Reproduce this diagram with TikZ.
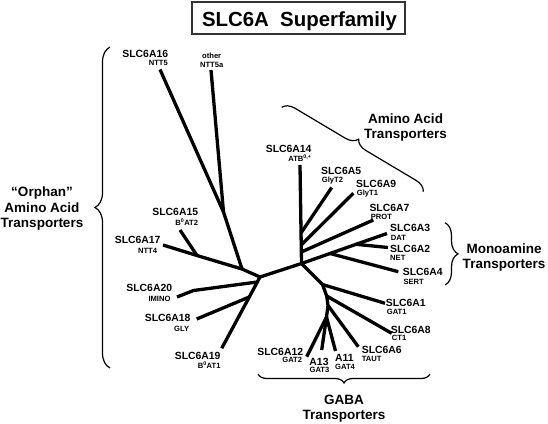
\documentclass[tikz,border=0pt]{standalone}
\usepackage{fontspec}
\setmainfont{Liberation Sans}
\usetikzlibrary{decorations.pathreplacing}
\begin{document}
\begin{tikzpicture}[x=1pt,y=-1pt,
  br/.style={line width=3.3pt, line join=round},
  mainlab/.style={font=\fontsize{10.4}{12}\selectfont\bfseries, inner sep=0pt},
  sublab/.style={font=\fontsize{7.6}{9}\selectfont\bfseries, inner sep=0pt},
  grouplab/.style={font=\fontsize{13.5}{16}\selectfont\bfseries, inner sep=0pt, anchor=base},
  curly/.style={decorate, decoration={brace, amplitude=#1}, line width=1.2pt},
]
\useasboundingbox[fill=white] (0,0) rectangle (548,423);

% title
\node[draw=black!80, line width=1.3pt, minimum width=213pt, minimum height=32pt, inner sep=0pt] (titlebox) at (298.5,18) {};
\node[font=\fontsize{20.4}{24}\selectfont\bfseries, anchor=base, inner sep=0pt] (titletext) at (299.5,26.7) {SLC6A\hspace{0.556em}Superfamily};

% tree coordinates
\coordinate (L) at (260,277);
\coordinate (R) at (301.5,263.5);
\coordinate (J1) at (242,269);
\coordinate (J15) at (197,255.5);
\coordinate (e17) at (163,245);
\coordinate (e15) at (180,230);
\coordinate (J2) at (223.5,212);
\coordinate (e16) at (160,69.5);
\coordinate (e5a) at (211,70);
\coordinate (J20) at (257.3,282);
\coordinate (k20) at (193.5,290.5);
\coordinate (e20) at (177,297);
\coordinate (J18) at (249.3,297);
\coordinate (e18) at (196.7,319);
\coordinate (e19) at (221.7,348.3);

\coordinate (e14) at (300,165);
\coordinate (J5) at (301,233);
\coordinate (J9) at (301.2,245);
\coordinate (J7) at (301.3,252);
\coordinate (e5) at (331.7,187.5);
\coordinate (e9) at (353.3,193.3);
\coordinate (e7) at (373.3,220);
\coordinate (J4) at (330,253.5);
\coordinate (J2b) at (356,244.3);
\coordinate (e3) at (387,233.5);
\coordinate (e2) at (388,247.5);
\coordinate (e4) at (398.3,271.7);
\coordinate (G1) at (322.5,284.5);
\coordinate (G2) at (326.7,296);
\coordinate (G3) at (328,305.5);
\coordinate (G4) at (326.5,317);
\coordinate (e1) at (385,303.3);
\coordinate (e8) at (391.7,333.3);
\coordinate (e6) at (358.3,346.7);
\coordinate (e12) at (306.7,356.7);
\coordinate (e13) at (321.7,350);
\coordinate (e11) at (335.5,351);

% tree branches
\draw[br] (R) -- (L) -- (J1) -- (J15) -- (e17);
\draw[br] (J15) -- (e15);
\draw[br] (J1) -- (J2) -- (e16);
\draw[br] (J2) -- (e5a);
\draw[br] (L) -- (J20) -- (J18) -- (e19);
\draw[br] (J20) -- (k20) -- (e20);
\draw[br] (J18) -- (e18);

\draw[br] (R) -- (e14);
\draw[br] (J5) -- (e5);
\draw[br] (J9) -- (e9);
\draw[br] (J7) -- (e7);
\draw[br] (R) -- (J4) -- (J2b) -- (e3);
\draw[br] (J4) -- (e4);
\draw[br] (J2b) -- (e2);
\draw[br] (R) -- (G1) -- (G2) -- (G3) -- (G4) -- (e12);
\draw[br] (G1) -- (e1);
\draw[br] (G2) -- (e8);
\draw[br] (G3) -- (e6);
\draw[br] (G4) -- (e13);
\draw[br] (G4) -- (e11);

% leaf labels (left side, right aligned)
\node[mainlab, anchor=base east] (l16) at (168.3,57.3) {SLC6A16};
\node[sublab, anchor=base east] (s16) at (168,65) {NTT5};
\node[sublab, anchor=base] (loth) at (211.7,58.3) {other};
\node[sublab, anchor=base] (soth) at (211.7,67.3) {NTT5a};
\node[mainlab, anchor=base east] (l15) at (198.3,215.7) {SLC6A15};
\node[sublab, anchor=base east] (s15) at (198.3,225.7) {B\textsuperscript{0}AT2};
\node[mainlab, anchor=base east] (l17) at (160.7,243.3) {SLC6A17};
\node[sublab, anchor=base east] (s17) at (157.3,253) {NTT4};
\node[mainlab, anchor=base east] (l20) at (172.3,291.7) {SLC6A20};
\node[sublab, anchor=base east] (s20) at (170.7,301.7) {IMINO};
\node[mainlab, anchor=base east] (l18) at (190.7,321.7) {SLC6A18};
\node[sublab, anchor=base east] (s18) at (189.3,331.7) {GLY};
\node[mainlab, anchor=base east] (l19) at (220.7,359) {SLC6A19};
\node[sublab, anchor=base east] (s19) at (220.7,368.3) {B\textsuperscript{0}AT1};
\node[mainlab, anchor=base east] (l12) at (303.3,355) {SLC6A12};
\node[sublab, anchor=base east] (s12) at (302.3,362.7) {GAT2};
\node[mainlab, anchor=base east] (l14) at (311.7,152.3) {SLC6A14};
\node[sublab, anchor=base east] (s14) at (311.7,161.7) {ATB\textsuperscript{0,+}};

% leaf labels (right side, left aligned)
\node[mainlab, anchor=base west] (l5) at (321,174.7) {SLC6A5};
\node[sublab, anchor=base west] (s5) at (321.7,182) {GlyT2};
\node[mainlab, anchor=base west] (l9) at (356,187.3) {SLC6A9};
\node[sublab, anchor=base west] (s9) at (356.7,195) {GlyT1};
\node[mainlab, anchor=base west] (l7) at (369.3,211.3) {SLC6A7};
\node[sublab, anchor=base west] (s7) at (370.7,219.3) {PROT};
\node[mainlab, anchor=base west] (l3) at (390,231.7) {SLC6A3};
\node[sublab, anchor=base west] (s3) at (390.7,240) {DAT};
\node[mainlab, anchor=base west] (l2) at (390,252.3) {SLC6A2};
\node[sublab, anchor=base west] (s2) at (390,260.7) {NET};
\node[mainlab, anchor=base west] (l4) at (402.7,275.7) {SLC6A4};
\node[sublab, anchor=base west] (s4) at (403.3,284) {SERT};
\node[mainlab, anchor=base west] (l1) at (385.7,306.7) {SLC6A1};
\node[sublab, anchor=base west] (s1) at (386.7,314) {GAT1};
\node[mainlab, anchor=base west] (l8) at (390.7,333.3) {SLC6A8};
\node[sublab, anchor=base west] (s8) at (391.7,340.7) {CT1};
\node[mainlab, anchor=base west] (l6) at (361.7,353.3) {SLC6A6};
\node[sublab, anchor=base west] (s6) at (361.7,361) {TAUT};
\node[mainlab, anchor=base] (l13) at (319,365) {A13};
\node[sublab, anchor=base] (s13) at (319.5,372.3) {GAT3};
\node[mainlab, anchor=base west] (l11) at (335,361.7) {A11};
\node[sublab, anchor=base west] (s11) at (335,369) {GAT4};

% braces
\draw[curly=15pt] (110,368) -- (110,47);
\draw[curly=13pt] (445,222.7) -- (445,285);
\draw[curly=9pt] (430,374) -- (258,374);
\draw[curly=12pt] (281.7,107.3) -- (423.3,191.7);

% group labels
\node[grouplab] (or1) at (42,196.2) {“Orphan”};
\node[grouplab] (or2) at (42,212) {Amino Acid};
\node[grouplab] (or3) at (42,227.4) {Transporters};
\node[grouplab] (aa1) at (405.5,123.3) {Amino Acid};
\node[grouplab] (aa2) at (405.5,138) {Transporters};
\node[grouplab] (mo1) at (504,253.3) {Monoamine};
\node[grouplab] (mo2) at (504,268) {Transporters};
\node[grouplab] (ga1) at (344,404) {GABA};
\node[grouplab] (ga2) at (344,419.5) {Transporters};
\end{tikzpicture}
\end{document}
